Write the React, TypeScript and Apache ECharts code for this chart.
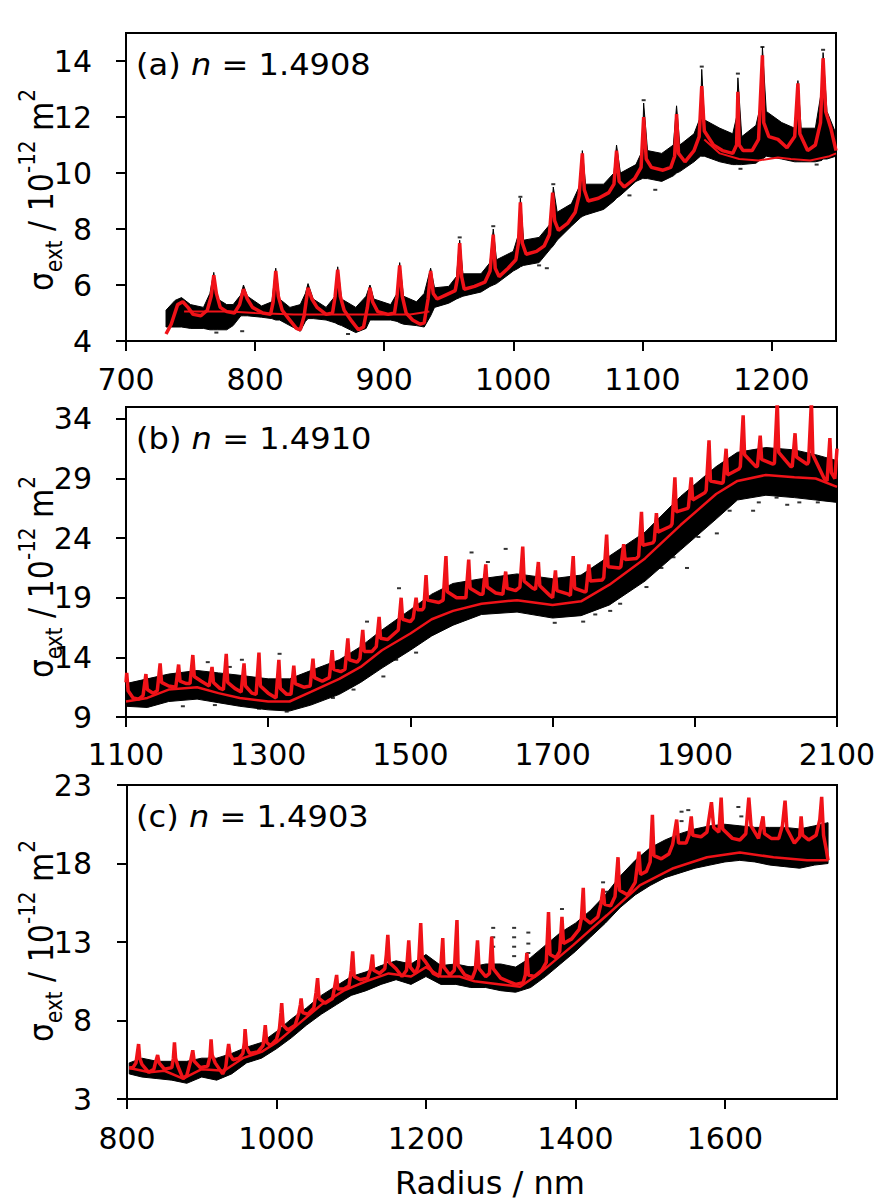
import React, { useEffect, useRef } from 'react';
import * as echarts from 'echarts';

const FONT = '"DejaVu Sans", sans-serif';
const RED = '#f01218';

// ---------- Panel (a) ----------
const xTicksA = [700, 800, 900, 1000, 1100, 1200];
const yTicksA = [4, 6, 8, 10, 12, 14];
// [radius, lower edge of data cloud, upper edge of data cloud]
const bandA = [
  [731, 4.5, 5.1], [738, 4.5, 5.45], [743, 4.5, 5.55], [750, 4.45, 5.3], [760, 4.45, 5.2], [765, 4.4, 5.7],
  [768, 4.4, 6.45], [771, 4.4, 5.5], [778, 4.4, 5.3], [783, 4.55, 5.3], [789, 4.9, 5.65], [791, 4.9, 6.0],
  [794, 4.9, 5.6], [805, 4.85, 5.25], [813, 4.8, 5.4], [816, 4.75, 6.6], [819, 4.75, 5.5], [827, 4.55, 5.2],
  [835, 4.35, 5.3], [839, 4.7, 5.7], [841, 4.8, 6.05], [845, 4.8, 5.5], [855, 4.75, 5.2], [862, 4.65, 5.6],
  [864, 4.6, 6.65], [867, 4.55, 5.5], [878, 4.3, 5.2], [886, 4.45, 5.6], [889, 4.75, 6.0], [892, 4.75, 5.5],
  [905, 4.75, 5.3], [910, 4.7, 5.7], [912, 4.65, 6.8], [915, 4.6, 5.6], [925, 4.55, 5.4], [931, 4.5, 5.7],
  [936, 4.9, 6.6], [939, 5.2, 5.9], [950, 5.35, 5.95], [956, 5.5, 6.3], [958.5, 5.55, 7.6], [961, 5.6, 6.4],
  [975, 5.75, 6.4], [982, 5.95, 6.8], [984.5, 6.0, 8.0], [987, 6.05, 6.9], [1000, 6.5, 7.2], [1004, 6.6, 7.8],
  [1005.5, 6.65, 9.1], [1008, 6.7, 7.6], [1020, 6.8, 7.7], [1029, 7.3, 8.2], [1031, 7.4, 9.5], [1034, 7.6, 8.6],
  [1045, 8.1, 8.9], [1052, 8.4, 9.6], [1053.5, 8.45, 10.8], [1056, 8.5, 9.6], [1070, 8.7, 9.6], [1078, 9.0, 10.0],
  [1080, 9.1, 11.0], [1083, 9.2, 10.0], [1095, 9.7, 10.3], [1100, 9.8, 10.8], [1101, 9.8, 12.5], [1104, 9.8, 10.8],
  [1115, 9.7, 10.7], [1124, 9.9, 11.0], [1126.5, 10.0, 12.4], [1129, 10.05, 11.0], [1140, 10.4, 11.4], [1145, 10.6, 12.0],
  [1146, 10.6, 13.7], [1148, 10.6, 11.9], [1160, 10.4, 11.6], [1170, 10.3, 11.4], [1173, 10.3, 12.0], [1174, 10.3, 13.4],
  [1177, 10.3, 11.3], [1188, 10.35, 11.7], [1192, 10.5, 12.5], [1193, 10.5, 14.5], [1196, 10.6, 12.2], [1208, 10.5, 11.8],
  [1218, 10.4, 11.6], [1220.5, 10.4, 13.3], [1223, 10.4, 11.6], [1234, 10.4, 11.6], [1239, 10.45, 13.0], [1240, 10.5, 14.3],
  [1243, 10.5, 12.2], [1250, 10.6, 11.4],
];
const redA = [
  [731, 4.25], [735, 4.6], [740, 5.3], [744, 5.4], [748, 5.2], [752, 4.95], [758, 4.9], [763, 5.1], [766, 5.6], [768, 6.35],
  [770, 5.7], [773, 5.2], [778, 5.05], [784, 5.0], [788, 5.3], [791, 5.85], [794, 5.5], [798, 5.2], [806, 5.0], [812, 4.95],
  [814, 5.4], [816, 6.5], [818, 5.6], [821, 5.1], [826, 4.8], [832, 4.45], [835, 4.4], [838, 4.9], [841, 5.9], [844, 5.5],
  [848, 5.2], [855, 4.95], [860, 5.0], [862, 5.6], [864, 6.55], [866, 5.6], [869, 5.1], [875, 4.7], [880, 4.4], [884, 4.5],
  [887, 5.2], [889, 5.9], [891, 5.4], [895, 5.05], [903, 4.95], [908, 5.0], [910, 5.6], [912, 6.7], [914, 5.6], [917, 5.0],
  [922, 4.75], [928, 4.6], [931, 4.65], [934, 5.5], [936, 6.5], [938, 5.7], [941, 5.5], [948, 5.65], [955, 5.8], [957, 6.3],
  [958.5, 7.5], [960, 6.3], [962, 5.85], [970, 5.95], [978, 6.1], [982, 6.5], [984.5, 7.8], [986, 6.6], [989, 6.3], [996, 6.6],
  [1002, 6.9], [1004, 7.5], [1005.5, 8.95], [1007, 7.5], [1010, 7.1], [1018, 7.2], [1024, 7.4], [1028, 7.8], [1030.5, 9.3],
  [1032, 8.3], [1035, 7.95], [1042, 8.2], [1048, 8.6], [1051, 9.2], [1053.5, 10.7], [1055, 9.4], [1058, 9.0], [1066, 9.1],
  [1074, 9.3], [1078, 9.6], [1080, 10.8], [1082, 9.7], [1086, 9.5], [1094, 9.8], [1099, 10.2], [1101, 12.0], [1103, 10.5],
  [1107, 10.2], [1116, 10.1], [1122, 10.2], [1125, 10.6], [1126.5, 12.1], [1128, 10.7], [1133, 10.4], [1140, 10.8],
  [1144, 11.3], [1146, 13.1], [1148, 11.5], [1155, 11.0], [1162, 10.8], [1170, 10.7], [1173, 11.0], [1174, 12.9],
  [1175, 11.0], [1178, 10.8], [1185, 10.8], [1190, 11.2], [1193, 14.2], [1194, 11.8], [1198, 11.3], [1205, 11.2],
  [1212, 10.9], [1218, 11.3], [1220.5, 13.2], [1222, 11.4], [1228, 10.8], [1234, 11.0], [1238, 11.8], [1240, 14.1],
  [1242, 12.2], [1246, 11.6], [1250, 10.8],
];
const redA2Left = [[745, 5.05], [760, 5.05], [780, 5.05], [800, 5.0], [830, 4.95], [860, 4.95], [890, 4.95], [920, 4.95], [935, 5.05]];
const redA2Right = [[1148, 11.2], [1160, 10.7], [1175, 10.5], [1190, 10.45], [1205, 10.55], [1215, 10.5], [1230, 10.45], [1245, 10.6], [1250, 10.7]];
const dotsA = [
  [770, 4.3], [790, 4.35], [872, 4.25], [1020, 6.7], [1026, 6.6], [1090, 9.2], [1110, 9.4], [1176, 10.15], [1235, 10.3],
  [1146, 13.8], [1174, 13.55], [1193, 14.5], [1240, 14.4], [1101, 12.6], [1031, 9.6], [958.5, 7.7], [984.5, 8.1], [1005.5, 9.15],
];

// ---------- Panel (b) ----------
const xTicksB = [1100, 1300, 1500, 1700, 1900, 2100];
const yTicksB = [9, 14, 19, 24, 29, 34];
const bandB = [
  [1100, 9.9, 11.8], [1130, 9.8, 12.2], [1160, 10.3, 12.6], [1200, 10.5, 12.9], [1230, 10.2, 12.7], [1260, 9.9, 12.5],
  [1300, 9.6, 12.2], [1330, 9.5, 12.2], [1360, 10.0, 12.9], [1400, 10.9, 13.8], [1430, 11.9, 14.9], [1460, 13.1, 16.3],
  [1500, 14.6, 18.0], [1530, 15.8, 19.3], [1560, 16.7, 20.2], [1600, 17.6, 20.6], [1650, 17.8, 21.0], [1700, 17.3, 20.6],
  [1740, 17.5, 20.9], [1780, 18.4, 22.5], [1830, 20.4, 24.5], [1880, 23.0, 27.5], [1930, 25.6, 30.0], [1960, 27.2, 31.2],
  [2000, 27.6, 31.6], [2040, 27.4, 31.4], [2070, 27.2, 31.0], [2100, 27.0, 30.5],
];
const redB = [
  [1100, 11.9], [1101, 12.7], [1103, 11.2], [1110, 10.6], [1118, 10.5],
  [1124, 10.8], [1128, 12.6], [1130, 11.3], [1138, 11.0],
  [1144, 11.2], [1148, 13.5], [1150, 11.9], [1160, 11.6],
  [1170, 11.5], [1174, 13.4], [1176, 12.0], [1185, 11.8],
  [1190, 11.8], [1194, 14.2], [1196, 12.4], [1206, 12.0],
  [1217, 11.6], [1221, 13.2], [1223, 11.9], [1232, 11.4],
  [1237, 11.3], [1241, 14.3], [1243, 11.9], [1253, 11.4],
  [1262, 11.1], [1266, 13.5], [1268, 11.6], [1277, 11.0],
  [1283, 10.9], [1287, 14.4], [1289, 11.6], [1300, 11.0],
  [1311, 10.6], [1315, 13.8], [1317, 11.4], [1326, 10.9],
  [1332, 10.9], [1336, 13.3], [1338, 11.8], [1350, 11.5],
  [1359, 11.6], [1363, 13.9], [1365, 12.3], [1376, 12.0],
  [1386, 12.3], [1390, 14.6], [1392, 13.0], [1402, 12.8],
  [1408, 13.0], [1412, 15.6], [1414, 13.8], [1425, 13.6],
  [1429, 13.9], [1433, 16.3], [1435, 14.5], [1446, 14.5],
  [1452, 14.9], [1456, 17.4], [1458, 15.6], [1468, 15.5],
  [1483, 16.3], [1487, 19.0], [1489, 17.2], [1500, 17.0],
  [1504, 17.3], [1508, 19.0], [1510, 18.0], [1517, 18.0],
  [1519, 18.2], [1522, 20.9], [1524, 18.8], [1540, 18.6],
  [1546, 18.8], [1550, 22.5], [1552, 19.5], [1565, 19.0],
  [1578, 19.0], [1582, 22.2], [1584, 19.8], [1598, 19.3],
  [1602, 19.3], [1606, 21.8], [1608, 19.9], [1620, 19.4],
  [1630, 19.3], [1634, 21.2], [1636, 19.8], [1648, 19.6],
  [1654, 19.9], [1658, 23.3], [1660, 20.4], [1672, 19.8],
  [1676, 19.7], [1680, 22.0], [1682, 20.0], [1696, 19.2],
  [1700, 19.0], [1704, 21.3], [1706, 19.6], [1722, 19.3],
  [1725, 19.2], [1729, 22.5], [1731, 19.8], [1745, 19.5],
  [1747, 19.5], [1751, 21.8], [1753, 20.4], [1770, 20.5],
  [1772, 20.7], [1776, 24.3], [1778, 21.6], [1794, 21.5],
  [1796, 21.6], [1800, 23.5], [1802, 22.2], [1818, 22.3],
  [1821, 22.5], [1825, 26.2], [1827, 23.4], [1841, 23.6],
  [1843, 23.8], [1846, 26.1], [1848, 24.5], [1866, 25.0],
  [1868, 25.2], [1872, 29.1], [1874, 26.2], [1890, 26.5],
  [1891, 26.6], [1895, 29.1], [1897, 27.2], [1914, 27.8],
  [1916, 28.0], [1920, 32.2], [1922, 28.8], [1938, 28.6],
  [1940, 28.7], [1944, 31.5], [1946, 29.3], [1962, 29.8],
  [1964, 30.0], [1968, 34.3], [1970, 31.0], [1986, 30.0],
  [1988, 30.0], [1992, 32.6], [1994, 30.6], [2010, 30.2],
  [2012, 30.3], [2016, 35.5], [2018, 31.2], [2035, 30.0],
  [2037, 30.0], [2041, 32.8], [2043, 30.8], [2058, 30.2],
  [2060, 30.4], [2064, 35.5], [2066, 31.0], [2082, 29.0],
  [2086, 28.8], [2090, 32.4], [2092, 29.5], [2097, 29.0], [2100, 31.5],
];
const redB2 = [
  [1100, 10.3], [1130, 10.6], [1160, 11.3], [1200, 11.5], [1230, 11.0], [1260, 10.6], [1300, 10.3], [1330, 10.3],
  [1360, 11.1], [1400, 12.2], [1430, 13.2], [1460, 14.6], [1500, 16.0], [1530, 17.2], [1560, 17.9], [1600, 18.5],
  [1650, 18.8], [1700, 18.4], [1740, 18.7], [1780, 20.1], [1830, 22.3], [1880, 25.1], [1930, 27.7], [1960, 28.8],
  [2000, 29.3], [2040, 29.1], [2070, 29.0], [2100, 28.3],
];
const dotsB = [
  [1246, 13.2], [1287, 9.7], [1326, 9.45], [1391, 10.6], [1462, 12.4], [1508, 14.4], [1703, 16.9], [1743, 17.0],
  [1781, 17.9], [1820, 20.2], [1832, 19.9], [1853, 21.5], [1889, 21.5], [1905, 24.1], [1931, 24.4], [1949, 26.3],
  [1982, 26.3], [2015, 27.4], [2073, 27.0], [2047, 27.0], [1760, 17.6], [1795, 18.5], [1870, 22.4], [1910, 25.2],
  [1990, 27.0], [2030, 26.8], [2090, 27.2], [1340, 9.8], [1180, 9.9], [1225, 10.0], [1420, 11.3], [1480, 13.8],
  [1215, 13.6], [1263, 13.8], [1316, 14.3], [1439, 17.0], [1484, 19.8], [1609, 22.0], [1634, 23.1], [1586, 22.8],
];

// ---------- Panel (c) ----------
const xTicksC = [800, 1000, 1200, 1400, 1600];
const yTicksC = [3, 8, 13, 18, 23];
const bandC = [
  [803, 4.6, 5.3], [820, 4.4, 5.6], [840, 4.3, 5.4], [860, 4.2, 5.4], [880, 4.0, 5.4], [900, 4.4, 5.6], [920, 4.2, 5.6],
  [940, 4.6, 5.9], [960, 5.3, 6.3], [980, 5.6, 6.6], [1000, 6.2, 7.3], [1020, 6.9, 8.1], [1040, 7.7, 8.8], [1060, 8.4, 9.6],
  [1080, 9.0, 10.2], [1100, 9.6, 10.8], [1120, 9.9, 11.1], [1140, 10.3, 11.5], [1160, 10.6, 11.8], [1180, 10.3, 11.6],
  [1200, 10.8, 12.2], [1220, 10.3, 11.5], [1240, 10.3, 11.6], [1260, 10.1, 11.4], [1280, 10.1, 11.6], [1300, 9.9, 11.6],
  [1320, 9.8, 11.4], [1340, 10.1, 12.0], [1360, 10.8, 12.8], [1380, 11.6, 13.6], [1400, 12.4, 14.2], [1420, 13.3, 15.0],
  [1440, 14.2, 16.0], [1460, 15.2, 17.2], [1480, 16.0, 18.2], [1500, 16.6, 19.0], [1520, 17.1, 19.5], [1540, 17.4, 19.9],
  [1560, 17.7, 20.2], [1580, 17.9, 20.4], [1600, 18.1, 20.5], [1620, 18.2, 20.4], [1640, 18.1, 20.3], [1660, 17.9, 20.3],
  [1680, 17.8, 20.3], [1700, 17.7, 20.2], [1720, 17.9, 20.4], [1738, 18.0, 20.6],
];
const redC = [
  [803, 4.97], [808, 5.0], [812, 5.3], [815.5, 6.5], [817, 5.6], [820, 5.2], [829, 4.7], [836, 4.9], [838, 5.3], [841, 5.8],
  [843, 5.3], [850, 4.9], [860, 5.0], [862, 5.6], [863.5, 6.6], [865, 5.6], [868, 5.1], [875, 4.3], [880, 4.5], [885, 5.4],
  [888, 6.1], [890, 5.4], [898, 5.0], [908, 5.1], [911, 5.7], [912.5, 6.8], [914, 5.8], [918, 5.3], [928, 4.6], [932, 5.0],
  [934, 5.8], [936, 6.5], [938, 5.8], [942, 5.5], [950, 5.6], [955, 5.9], [957, 6.6], [958, 7.45], [960, 6.3], [964, 5.9],
  [975, 6.0], [982, 6.4], [984, 7.2], [985, 7.7], [987, 6.6], [992, 6.4], [1000, 6.8], [1004, 7.5], [1006, 8.5], [1007, 9.1],
  [1009, 7.7], [1015, 7.4], [1025, 7.7], [1030, 8.5], [1032, 9.0], [1033, 9.4], [1035, 8.5], [1042, 8.4], [1050, 8.8],
  [1053, 9.8], [1055, 10.7], [1057, 9.4], [1065, 9.1], [1075, 9.4], [1078, 10.2], [1080.5, 10.9], [1082, 10.0], [1090, 10.0],
  [1097, 10.2], [1100, 11.2], [1102, 12.4], [1104, 10.8], [1112, 10.6], [1122, 10.7], [1126, 11.3], [1128.5, 12.2],
  [1130, 11.2], [1138, 11.0], [1145, 11.3], [1147, 12.2], [1149, 13.45], [1151, 11.7], [1160, 11.3], [1168, 10.8],
  [1174, 11.2], [1177, 13.1], [1179, 11.4], [1186, 11.0], [1190, 11.5], [1193, 14.2], [1195, 12.0], [1200, 11.7],
  [1210, 11.0], [1218, 10.8], [1220, 11.5], [1222.5, 13.25], [1224, 11.4], [1232, 10.9], [1238, 11.2], [1241.5, 14.4],
  [1243, 11.5], [1252, 10.9], [1262, 10.7], [1266, 11.2], [1269, 13.1], [1271, 11.3], [1280, 10.8], [1285, 11.0],
  [1288, 13.35], [1290, 11.3], [1300, 10.7], [1310, 10.5], [1320, 10.3], [1330, 10.4], [1333, 10.9], [1335, 12.3],
  [1337, 10.9], [1345, 10.8], [1355, 11.2], [1361, 11.7], [1364, 14.9], [1366, 12.2], [1374, 12.0], [1379, 12.4],
  [1382, 14.6], [1384, 12.9], [1395, 13.2], [1405, 13.8], [1408, 14.5], [1410.5, 16.45], [1412, 14.5], [1420, 14.2],
  [1430, 14.6], [1434, 15.4], [1437, 16.4], [1439, 15.4], [1447, 15.3], [1453, 15.9], [1457, 18.4], [1459, 16.3],
  [1470, 16.0], [1480, 16.8], [1485, 18.75], [1487, 17.3], [1495, 17.5], [1500, 18.1], [1503, 21.1], [1505, 18.5],
  [1515, 18.3], [1525, 18.6], [1530, 19.2], [1535.5, 20.8], [1538, 19.3], [1548, 19.3], [1552, 19.8], [1555, 21.0],
  [1557, 19.8], [1568, 19.7], [1576, 20.0], [1582, 21.9], [1585, 20.3], [1592, 20.0], [1595, 22.2], [1597, 20.2],
  [1610, 19.6], [1620, 19.5], [1628, 19.9], [1632, 22.2], [1635, 20.4], [1645, 19.6], [1651, 21.0], [1653, 19.9],
  [1662, 19.6], [1672, 19.6], [1677, 20.4], [1680.5, 22.0], [1683, 20.2], [1693, 19.3], [1700, 19.7], [1702, 21.0],
  [1704, 19.8], [1712, 19.5], [1722, 19.8], [1727, 20.8], [1729.5, 22.25], [1732, 19.8], [1736, 18.8], [1738, 18.2],
];
const redC2 = [
  [803, 4.97], [830, 4.7], [850, 4.8], [875, 4.3], [900, 4.9], [930, 4.8], [955, 5.6], [980, 6.0], [1000, 6.6], [1030, 7.8],
  [1060, 9.0], [1090, 9.9], [1120, 10.5], [1150, 11.0], [1180, 10.8], [1200, 11.4], [1220, 10.8], [1245, 10.8], [1265, 10.5],
  [1300, 10.3], [1326, 10.15], [1352, 11.0], [1397, 12.8], [1442, 14.7], [1486, 16.6], [1531, 17.7], [1576, 18.4],
  [1620, 18.7], [1665, 18.4], [1710, 18.2], [1738, 18.2],
];
const dotsC = [
  [1290, 13.9], [1290, 13.3], [1290, 12.7], [1318, 13.9], [1318, 13.3], [1318, 12.7], [1318, 12.1], [1337, 13.6],
  [1337, 12.9], [1337, 12.3], [1382, 15.1], [1437, 16.8], [1441, 16.2], [1542, 21.3], [1542, 20.7], [1551, 21.4],
  [1618, 21.6], [1622, 21.0], [1260, 11.4],
];

const panelTags = ['(a)', '(b)', '(c)'];
const nValues = ['1.4908', '1.4910', '1.4903'];
const xTitle = 'Radius / nm';

// layout
const grids = [
  { left: 126, top: 33, width: 710, height: 308 },
  { left: 126, top: 407, width: 711, height: 310 },
  { left: 127, top: 785, width: 710, height: 314 },
];
const xRanges = [[700, 1250], [1100, 2100], [800, 1750]];
const yRanges = [[4, 15], [9, 35], [3, 23]];
const xLabelMargins = [23, 22, 24];
const titleCenters = [190, 577, 941];

function makeXAxis(i: number, ticks: number[]) {
  return {
    type: 'value', gridIndex: i, min: xRanges[i][0], max: xRanges[i][1],
    axisLine: { show: true, onZero: false, lineStyle: { color: '#000', width: 2 } },
    axisTick: { show: true, inside: false, length: 10, lineStyle: { color: '#000', width: 2 }, customValues: ticks },
    axisLabel: {
      show: true, customValues: ticks, margin: xLabelMargins[i], fontSize: 30, fontFamily: FONT, color: '#000',
      formatter: (v: number) => String(v),
    },
    splitLine: { show: false },
  };
}
function makeYAxis(i: number, ticks: number[]) {
  return {
    type: 'value', gridIndex: i, min: yRanges[i][0], max: yRanges[i][1], position: 'left',
    axisLine: { show: true, onZero: false, lineStyle: { color: '#000', width: 2 } },
    axisTick: { show: true, inside: false, length: 10, lineStyle: { color: '#000', width: 2 }, customValues: ticks },
    axisLabel: {
      show: true, customValues: ticks, margin: i === 2 ? 35 : 34, fontSize: 30, fontFamily: FONT, color: '#000',
      formatter: (v: number) => String(v),
    },
    splitLine: { show: false },
  };
}
function bandSeries(i: number, band: number[][]) {
  return {
    type: 'custom', xAxisIndex: i, yAxisIndex: i, silent: true, clip: true, z: 1,
    data: band, encode: { x: 0, y: [1, 2] },
    renderItem: (params: any, api: any) => {
      if (params.dataIndex !== 0) return null;
      const pts: number[][] = [];
      for (const d of band) pts.push(api.coord([d[0], d[2]]));
      for (let k = band.length - 1; k >= 0; k--) pts.push(api.coord([band[k][0], band[k][1]]));
      return { type: 'polygon', shape: { points: pts }, style: { fill: '#000', stroke: '#000', lineWidth: 1 } };
    },
  };
}
function lineSeries(i: number, data: number[][], width: number) {
  return {
    type: 'line', xAxisIndex: i, yAxisIndex: i, data, showSymbol: false, symbol: 'none', silent: true, clip: true, z: 3,
    lineStyle: { color: RED, width }, emphasis: { disabled: true },
  };
}
function dotSeries(i: number, data: number[][]) {
  return {
    type: 'scatter', xAxisIndex: i, yAxisIndex: i, data, symbol: 'rect', symbolSize: [4, 2], silent: true, z: 2,
    itemStyle: { color: '#000' },
  };
}

const yTitleRich = {
  m: { font: '30px "DejaVu Sans"', fill: '#000', lineHeight: 44 },
  sub: { font: '20px "DejaVu Sans"', fill: '#000', lineHeight: 22, verticalAlign: 'bottom' },
  sup: { font: '20px "DejaVu Sans"', fill: '#000', lineHeight: 22, verticalAlign: 'top' },
};

function buildOption() {
  const graphic: any[] = [];
  for (let i = 0; i < 3; i++) {
    const g = grids[i];
    graphic.push({
      type: 'text', x: 136, y: g.top + 31, scaleX: 1.07, z: 10,
      style: {
        text: `{t|${panelTags[i]} }{i|n}{t| = ${nValues[i]}}`,
        rich: {
          t: { font: '30px "DejaVu Sans"', fill: '#000' },
          i: { font: 'italic 30px "DejaVu Sans"', fill: '#000' },
        },
        font: '30px "DejaVu Sans"', fill: '#000', textAlign: 'left', textVerticalAlign: 'middle',
      },
    });
    graphic.push({
      type: 'text', x: 41, y: titleCenters[i], rotation: Math.PI / 2, scaleY: 1.12, z: 10,
      style: {
        text: '{m|σ}{sub|ext}{m| / 10}{sup|-12}{m| m}{sup|2}',
        rich: yTitleRich,
        font: '30px "DejaVu Sans"', fill: '#000', textAlign: 'center', textVerticalAlign: 'middle',
      },
    });
  }
  graphic.push({
    type: 'text', x: 490, y: 1183, z: 10,
    style: { text: xTitle, font: '32px "DejaVu Sans"', fill: '#000', textAlign: 'center', textVerticalAlign: 'middle' },
  });

  return {
    animation: false,
    backgroundColor: '#fff',
    grid: grids.map((g) => ({ ...g, show: true, borderColor: '#000', borderWidth: 2, backgroundColor: 'transparent', containLabel: false })),
    xAxis: [makeXAxis(0, xTicksA), makeXAxis(1, xTicksB), makeXAxis(2, xTicksC)],
    yAxis: [makeYAxis(0, yTicksA), makeYAxis(1, yTicksB), makeYAxis(2, yTicksC)],
    series: [
      bandSeries(0, bandA), dotSeries(0, dotsA), lineSeries(0, redA2Left, 2), lineSeries(0, redA2Right, 2), lineSeries(0, redA, 3.5),
      bandSeries(1, bandB), dotSeries(1, dotsB), lineSeries(1, redB2, 2.5), lineSeries(1, redB, 3.5),
      bandSeries(2, bandC), dotSeries(2, dotsC), lineSeries(2, redC2, 2.5), lineSeries(2, redC, 3.5),
    ],
    graphic,
  };
}

export default function App() {
  const ref = useRef<HTMLDivElement>(null);
  useEffect(() => {
    if (!ref.current) return;
    const chart = echarts.init(ref.current, null, { renderer: 'svg' });
    chart.setOption(buildOption() as any);
    return () => chart.dispose();
  }, []);
  return <div ref={ref} style={{ position: 'fixed', left: 0, top: 0, width: 883, height: 1203, background: '#fff' }} />;
}
